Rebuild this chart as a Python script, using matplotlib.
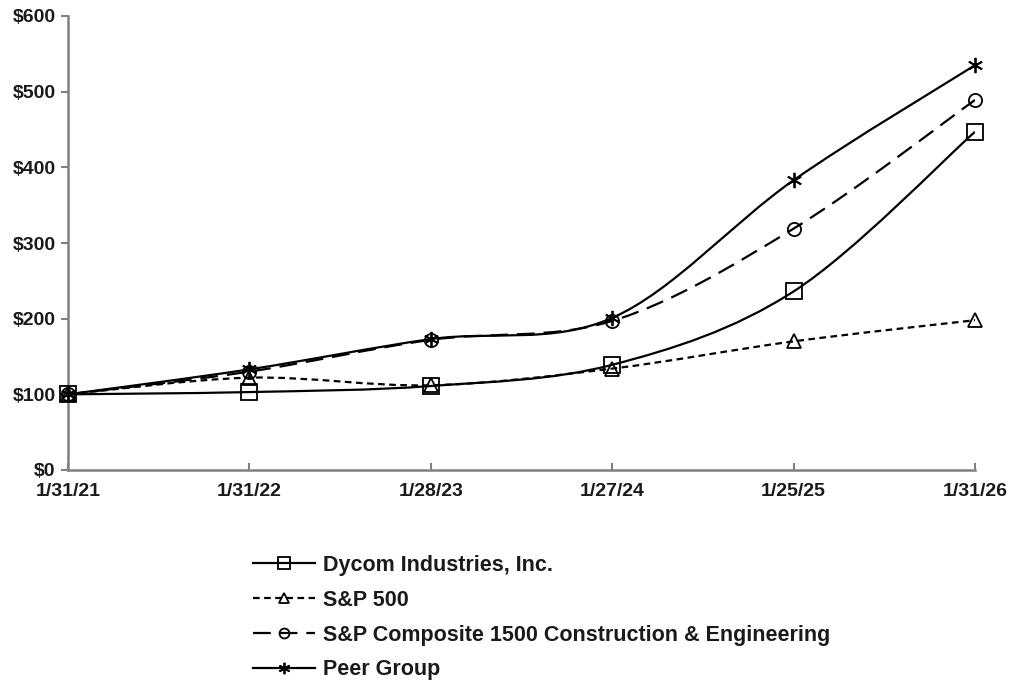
import matplotlib
matplotlib.use("Agg")
import matplotlib.pyplot as plt
from matplotlib.path import Path
from matplotlib.patches import PathPatch
from matplotlib.lines import Line2D
import numpy as np

dates = ["1/31/21", "1/31/22", "1/28/23", "1/27/24", "1/25/25", "1/31/26"]
dycom = [100, 103, 111, 139, 236, 447]
sp500 = [100, 122, 112, 134, 170, 198]
composite = [100, 130, 172, 197, 319, 489]
peer = [100, 133, 173, 201, 383, 535]
series_names = ["Dycom Industries, Inc.", "S&P 500",
                "S&P Composite 1500 Construction & Engineering", "Peer Group"]
y_ticks = [0, 100, 200, 300, 400, 500, 600]

plt.rcParams['font.family'] = ['Liberation Sans', 'DejaVu Sans']
plt.rcParams['font.weight'] = 'bold'

fig = plt.figure(figsize=(10.11, 6.81), dpi=100)
ax = fig.add_axes([68/1011, 1-470/681, (975-68)/1011, (470-16)/681])

x = np.arange(len(dates))
text_color = '#1a1a1a'
axis_color = '#808080'


def smooth_path(xs, ys):
    pts = np.column_stack([xs, ys]).astype(float)
    n = len(pts)
    verts = [pts[0]]
    codes = [Path.MOVETO]
    for i in range(n - 1):
        p0 = pts[i - 1] if i > 0 else pts[i]
        p1 = pts[i]
        p2 = pts[i + 1]
        p3 = pts[i + 2] if i + 2 < n else pts[i + 1]
        c1 = p1 + (p2 - p0) / 6.0
        c2 = p2 - (p3 - p1) / 6.0
        verts += [c1, c2, p2]
        codes += [Path.CURVE4] * 3
    return Path(verts, codes)

styles = [
    dict(data=dycom, ls='-', marker='s', ms=11),
    dict(data=sp500, ls=(0, (3, 2)), marker='^', ms=10.5),
    dict(data=composite, ls=(0, (8, 4)), marker='o', ms=9.5),
    dict(data=peer, ls='-', marker=(6, 2, 0), ms=11),
]

handles = []
for st, name in zip(styles, series_names):
    p = smooth_path(x, st['data'])
    patch = PathPatch(p, fill=False, edgecolor='black', lw=1.6,
                      linestyle=st['ls'], zorder=3)
    ax.add_patch(patch)
    ax.plot(x, st['data'], linestyle='none', marker=st['marker'],
            ms=st['ms'], mfc='none', mec='black', mew=1.3, zorder=4,
            clip_on=False)
    handles.append(Line2D([], [], color='black', lw=1.6, linestyle=st['ls'],
                          marker=st['marker'], ms=st['ms'] * 0.75, mfc='none',
                          mec='black', mew=1.3))

ax.set_xlim(0, len(dates) - 1)
ax.set_ylim(0, 600)
ax.set_xticks(x)
ax.set_xticklabels(dates)
ax.set_yticks(y_ticks)
ax.set_yticklabels([f"${v}" for v in y_ticks])

for s in ['top', 'right']:
    ax.spines[s].set_visible(False)
for s in ['left', 'bottom']:
    ax.spines[s].set_color(axis_color)
    ax.spines[s].set_linewidth(1.8)

ax.tick_params(axis='y', direction='out', length=5, width=1.5, color=axis_color,
               labelsize=14, labelcolor=text_color, pad=4)
ax.tick_params(axis='x', direction='in', length=5, width=1.5, color=axis_color,
               labelsize=14, labelcolor=text_color, pad=9)
for lbl in ax.get_xticklabels() + ax.get_yticklabels():
    lbl.set_fontweight('bold')

leg = fig.legend(handles=handles, labels=series_names, loc='upper left',
                 bbox_to_anchor=(253/1011, 1-555/681), frameon=False,
                 fontsize=15.5, handlelength=2.9, handletextpad=0.33,
                 labelspacing=0.64, borderaxespad=0, borderpad=0)
for t in leg.get_texts():
    t.set_color(text_color)
    t.set_fontweight('bold')

fig.savefig("out.png", dpi=100)
